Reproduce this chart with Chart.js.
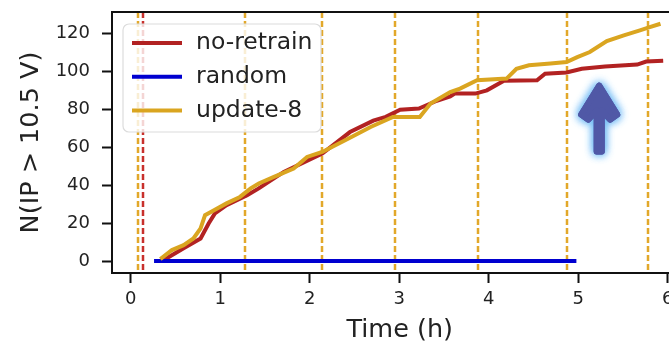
<!DOCTYPE html>
<html>
<head>
<meta charset="utf-8">
<script src="https://cdn.jsdelivr.net/npm/chart.js@4"></script>
<style>
  html, body { margin: 0; padding: 0; background: #fff; }
  #c { display: block; }
</style>
</head>
<body>
<canvas id="c" width="669" height="346"></canvas>
<script>
// ---- data ----
const noRetrainT = [0.35, 0.59, 0.78, 0.87, 0.94, 1.07, 1.30, 1.43, 1.71, 2.14, 2.45, 2.71, 2.85, 3.01, 3.22, 3.42, 3.57, 3.62, 3.85, 3.98, 4.17, 4.54, 4.63, 4.87, 5.04, 5.30, 5.66, 5.76, 5.95];
const noRetrainV = [0, 6.7, 11.9, 19.8, 25.1, 29.5, 34.7, 38.3, 47.0, 56.7, 68.0, 74.0, 76.0, 79.8, 80.4, 84.5, 86.8, 88.3, 88.3, 90.0, 95.0, 95.3, 98.8, 99.4, 101.4, 102.6, 103.6, 105.2, 105.6];
const randomT = [0.26, 4.98];
const randomV = [0, 0];
const updateT = [0.33, 0.46, 0.59, 0.70, 0.78, 0.83, 0.93, 1.07, 1.22, 1.34, 1.43, 1.60, 1.82, 1.97, 2.14, 2.45, 2.68, 2.93, 3.23, 3.35, 3.57, 3.68, 3.87, 4.20, 4.31, 4.45, 4.69, 4.87, 4.99, 5.13, 5.32, 5.51, 5.69, 5.80, 5.92];
const updateV = [1, 5.8, 8.4, 11.9, 17.2, 24.2, 26.8, 30.4, 33.8, 38.3, 40.9, 44.4, 48.8, 54.9, 57.5, 65.0, 70.7, 76.0, 76.0, 83.0, 89.1, 90.9, 95.3, 96.2, 101.4, 103.2, 104.1, 104.9, 107.5, 110.2, 116.0, 119.0, 121.6, 123.3, 125.1];
const retrainUpdate8 = [0.085, 1.28, 2.14, 2.95, 3.88, 4.87, 5.78];
const retrainNoRetrain = [0.137];
const seriesLabels = ['no-retrain', 'random', 'update-8'];
const xTicks = [0, 1, 2, 3, 4, 5, 6];
const yTicks = [0, 20, 40, 60, 80, 100, 120];
const xTitle = 'Time (h)';
const yTitle = 'N(IP > 10.5 V)';
const arrowTip = { x: 5.235, y: 94.6 };

const RED = '#b22222', BLUE = '#0000d0', GOLD = '#daa520';
const FONT = "'DejaVu Sans', sans-serif";

const pts = (t, v) => t.map((x, i) => ({ x: x, y: v[i] }));

const vlinesPlugin = {
  id: 'vlines',
  beforeDatasetsDraw(chart) {
    const { ctx, chartArea: a, scales: { x } } = chart;
    ctx.save();
    ctx.lineWidth = 2.5;
    ctx.setLineDash([6, 3]);
    const draw = (arr, col) => {
      ctx.strokeStyle = col;
      arr.forEach(t => {
        const px = Math.round(x.getPixelForValue(t));
        ctx.beginPath();
        ctx.moveTo(px, a.top);
        ctx.lineTo(px, a.bottom);
        ctx.stroke();
      });
    };
    draw(retrainUpdate8, '#e2a82a');
    draw(retrainNoRetrain, '#c8302c');
    ctx.restore();
  }
};

const legendPlugin = {
  id: 'customLegend',
  afterDatasetsDraw(chart) {
    const { ctx } = chart;
    ctx.save();
    const bx = 123, by = 24, bw = 198, bh = 108, r = 6;
    ctx.beginPath();
    ctx.moveTo(bx + r, by);
    ctx.arcTo(bx + bw, by, bx + bw, by + bh, r);
    ctx.arcTo(bx + bw, by + bh, bx, by + bh, r);
    ctx.arcTo(bx, by + bh, bx, by, r);
    ctx.arcTo(bx, by, bx + bw, by, r);
    ctx.closePath();
    ctx.fillStyle = 'rgba(255,255,255,0.8)';
    ctx.fill();
    ctx.lineWidth = 1.2;
    ctx.strokeStyle = '#dcdcdc';
    ctx.stroke();
    const ds = chart.data.datasets.filter(d => d.inLegend);
    ds.forEach((d, i) => {
      const cy = 43 + i * 33.7;
      ctx.strokeStyle = d.borderColor;
      ctx.lineWidth = 4;
      ctx.beginPath();
      ctx.moveTo(132, cy);
      ctx.lineTo(182, cy);
      ctx.stroke();
      ctx.fillStyle = '#222';
      ctx.font = '23.5px ' + FONT;
      ctx.textBaseline = 'middle';
      ctx.textAlign = 'left';
      ctx.fillText(d.label, 196, cy);
    });
    ctx.restore();
  }
};

const framePlugin = {
  id: 'frame',
  afterDraw(chart) {
    const { ctx, chartArea: a, scales: { x, y } } = chart;
    ctx.save();
    ctx.strokeStyle = '#111';
    ctx.lineWidth = 2;
    ctx.beginPath();
    ctx.moveTo(a.left - 1, a.top);
    ctx.lineTo(a.right, a.top);
    ctx.stroke();
    // x-axis title, centred on the full (cropped) axes width
    ctx.fillStyle = '#222';
    ctx.font = '25.5px ' + FONT;
    ctx.textAlign = 'center';
    ctx.textBaseline = 'middle';
    ctx.fillText(xTitle, x.getPixelForValue(3.006), 330);
    // arrow annotation
    const tx = x.getPixelForValue(arrowTip.x);
    const ty = y.getPixelForValue(arrowTip.y);
    const path = () => {
      ctx.beginPath();
      ctx.moveTo(tx, ty + 4);
      ctx.lineTo(tx + 18, ty + 33);
      ctx.lineTo(tx + 11, ty + 38);
      ctx.lineTo(tx + 2.5, ty + 29);
      ctx.lineTo(tx + 2.5, ty + 70);
      ctx.lineTo(tx - 2.5, ty + 70);
      ctx.lineTo(tx - 2.5, ty + 29);
      ctx.lineTo(tx - 11, ty + 38);
      ctx.lineTo(tx - 18, ty + 33);
      ctx.closePath();
    };
    ctx.lineJoin = 'round';
    ctx.lineWidth = 6;
    ctx.shadowColor = 'rgba(120,190,245,1)';
    ctx.shadowBlur = 10;
    ctx.fillStyle = '#5058a6';
    ctx.strokeStyle = '#5058a6';
    for (let k = 0; k < 2; k++) { path(); ctx.fill(); ctx.stroke(); }
    ctx.shadowBlur = 0;
    path(); ctx.fill(); ctx.stroke();
    ctx.restore();
  }
};

new Chart(document.getElementById('c'), {
  type: 'line',
  data: {
    datasets: [
      { label: seriesLabels[0], data: pts(noRetrainT, noRetrainV), borderColor: RED, borderWidth: 4, pointRadius: 0, tension: 0, order: 2, inLegend: true },
      { label: seriesLabels[1], data: pts(randomT, randomV), borderColor: BLUE, borderWidth: 4, pointRadius: 0, tension: 0, order: 1, inLegend: true },
      { label: seriesLabels[2], data: pts(updateT, updateV), borderColor: GOLD, borderWidth: 4, pointRadius: 0, tension: 0, order: 0, inLegend: true }
    ]
  },
  options: {
    responsive: false,
    animation: false,
    devicePixelRatio: 1,
    layout: { padding: { top: 12, left: 0, right: 0, bottom: 0 } },
    plugins: { legend: { display: false }, tooltip: { enabled: false } },
    scales: {
      x: {
        type: 'linear',
        min: -0.21,
        max: 6.015,
        afterBuildTicks: s => { s.ticks = xTicks.map(v => ({ value: v })); },
        afterFit: s => { s.height = 73; s.paddingLeft = 0; s.paddingRight = 0; },
        ticks: { font: { family: FONT, size: 18 }, color: '#222', padding: 6, maxRotation: 0, autoSkip: false },
        grid: { drawOnChartArea: false, drawTicks: true, tickLength: 10, tickWidth: 2, tickColor: '#111' },
        border: { color: '#111', width: 2 },
        title: { display: false }
      },
      y: {
        type: 'linear',
        min: -6.3,
        max: 131.3,
        afterBuildTicks: s => { s.ticks = yTicks.map(v => ({ value: v })); },
        afterFit: s => { s.width = 112; s.paddingTop = 0; s.paddingBottom = 0; },
        ticks: { font: { family: FONT, size: 18 }, color: '#222', padding: 12, autoSkip: false },
        grid: { drawOnChartArea: false, drawTicks: true, tickLength: 10, tickWidth: 2, tickColor: '#111' },
        border: { color: '#111', width: 2 },
        title: { display: true, text: yTitle, font: { family: FONT, size: 25.5 }, color: '#222', padding: { top: 16, bottom: 0 } }
      }
    }
  },
  plugins: [vlinesPlugin, legendPlugin, framePlugin]
});
</script>
</body>
</html>
